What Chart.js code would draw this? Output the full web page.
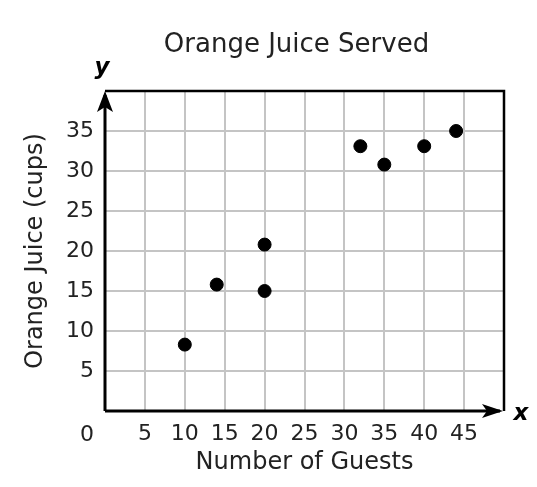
<!DOCTYPE html>
<html>
<head>
<meta charset="utf-8">
<script src="https://cdn.jsdelivr.net/npm/chart.js@4.4.1/dist/chart.umd.min.js"></script>
<style>
	body { margin: 0; background: #fff; }
</style>
</head>
<body>
<canvas id="chart" width="537" height="487"></canvas>
<script>
//data
var guests = [10, 14, 20, 20, 32, 35, 40, 44];
var cups = [8.3, 15.8, 20.8, 15, 33.1, 30.8, 33.1, 35];
var xTicks = [5, 10, 15, 20, 25, 30, 35, 40, 45];
var yTicks = [5, 10, 15, 20, 25, 30, 35];

var chartTitle = "Orange Juice Served";
var xTitle = "Number of Guests";
var yTitle = "Orange Juice (cups)";

var points = [];
for( var i = 0; i < guests.length; i++ ){
	points.push( { x: guests[i], y: cups[i] } );
}

var FONT = "DejaVu Sans";

//frame, arrows and loose labels
var axesPlugin = {
	id: "axesPlugin",
	afterDraw: function( chart ){
		var ctx = chart.ctx;
		var a = chart.chartArea;
		var xs = chart.scales.x;
		ctx.save();
		ctx.strokeStyle = "#000";
		ctx.fillStyle = "#000";

		//top and right frame
		ctx.lineWidth = 2.5;
		ctx.beginPath();
		ctx.moveTo( a.left, a.top );
		ctx.lineTo( a.right, a.top );
		ctx.lineTo( a.right, a.bottom );
		ctx.stroke();

		//axes
		ctx.lineWidth = 3;
		ctx.beginPath();
		ctx.moveTo( a.left, a.bottom );
		ctx.lineTo( a.left, a.top + 4 );
		ctx.moveTo( a.left, a.bottom );
		ctx.lineTo( a.right - 4, a.bottom );
		ctx.stroke();

		//y arrow
		ctx.beginPath();
		ctx.moveTo( a.left, a.top );
		ctx.lineTo( a.left - 8, a.top + 21 );
		ctx.lineTo( a.left, a.top + 16 );
		ctx.lineTo( a.left + 8, a.top + 21 );
		ctx.closePath();
		ctx.fill();

		//x arrow
		ctx.beginPath();
		ctx.moveTo( a.right - 1, a.bottom );
		ctx.lineTo( a.right - 22, a.bottom - 7 );
		ctx.lineTo( a.right - 17, a.bottom );
		ctx.lineTo( a.right - 22, a.bottom + 7 );
		ctx.closePath();
		ctx.fill();

		//title
		ctx.textAlign = "center";
		ctx.textBaseline = "middle";
		ctx.fillStyle = "#222";
		ctx.font = "26px '" + FONT + "'";
		ctx.fillText( chartTitle, ( a.left + a.right ) / 2 - 8, 45 );

		//axis letters
		ctx.fillStyle = "#000";
		ctx.font = "italic bold 23px '" + FONT + "'";
		ctx.fillText( "x", 521, a.bottom + 3 );
		ctx.fillText( "y", a.left - 3, 68 );

		//origin label
		ctx.fillStyle = "#222";
		ctx.font = "22px '" + FONT + "'";
		ctx.fillText( "0", xs.getPixelForValue( 0 ) - 18, 435 );
		ctx.restore();
	}
};

var gridColor = function( c ){
	if( c.tick.value == 0 || c.tick.value == c.scale.max ) return "rgba(0,0,0,0)";
	return "#c4c4c4";
};

new Chart( document.getElementById("chart").getContext("2d"), {
	type: "scatter",
	data: {
		datasets: [{
			data: points,
			backgroundColor: "#000",
			borderColor: "#000",
			pointRadius: 6.5,
			pointHoverRadius: 6.5
		}]
	},
	options: {
		responsive: false,
		animation: false,
		layout: { padding: { top: 91, right: 33, left: 0, bottom: 0 } },
		plugins: {
			legend: { display: false },
			title: { display: false },
			tooltip: { enabled: false }
		},
		scales: {
			x: {
				type: "linear",
				min: 0,
				max: 50,
				afterFit: function( s ){ s.height = 76; },
				afterBuildTicks: function( s ){
					s.ticks = [0].concat( xTicks, [50] ).map( function( v ){ return { value: v }; } );
				},
				ticks: {
					padding: 10,
					color: "#222",
					font: { family: FONT, size: 22 },
					maxRotation: 0,
					autoSkip: false,
					callback: function( v ){ return xTicks.indexOf( v ) >= 0 ? String( v ) : ""; }
				},
				grid: { color: gridColor, lineWidth: 2, drawTicks: false },
				border: { display: false },
				title: {
					display: true,
					text: xTitle,
					color: "#222",
					font: { family: FONT, size: 24 },
					padding: { top: 0, bottom: 10 }
				}
			},
			y: {
				type: "linear",
				min: 0,
				max: 40,
				afterFit: function( s ){ s.width = 105; },
				afterBuildTicks: function( s ){
					s.ticks = [0].concat( yTicks, [40] ).map( function( v ){ return { value: v }; } );
				},
				ticks: {
					padding: 11,
					color: "#222",
					font: { family: FONT, size: 22 },
					autoSkip: false,
					callback: function( v ){ return yTicks.indexOf( v ) >= 0 ? String( v ) : ""; }
				},
				grid: { color: gridColor, lineWidth: 2, drawTicks: false },
				border: { display: false },
				title: {
					display: true,
					text: yTitle,
					color: "#222",
					font: { family: FONT, size: 24 },
					padding: { top: 21, bottom: 0 }
				}
			}
		}
	},
	plugins: [ axesPlugin ]
});
</script>
</body>
</html>
